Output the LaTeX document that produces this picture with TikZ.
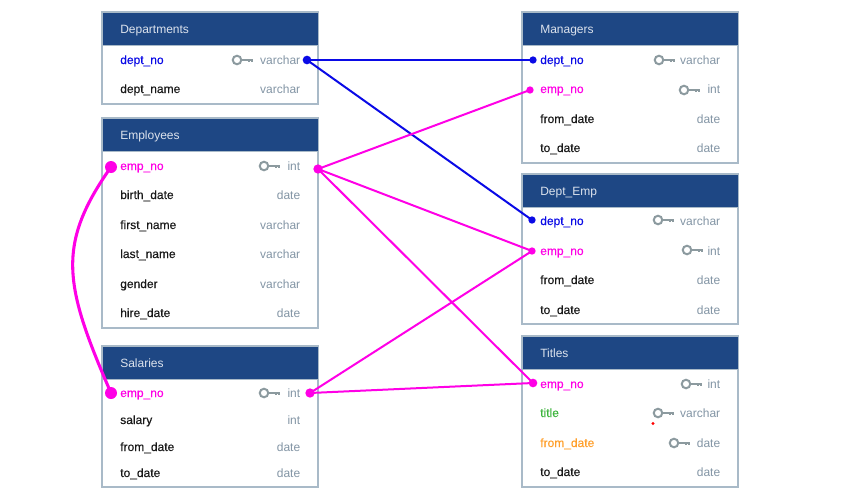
\documentclass[tikz,border=0pt]{standalone}
\usepackage{fontspec}
\setmainfont{Liberation Sans}
\newfontfamily\medfont[FakeBold=0.35]{Liberation Sans}
\definecolor{hdr}{HTML}{1E4784}
\definecolor{bord}{HTML}{A9BAC8}
\definecolor{typ}{HTML}{8395A5}
\definecolor{keyc}{HTML}{8C9A9F}
\definecolor{fkblue}{HTML}{0A0AE6}
\definecolor{fkpink}{HTML}{FF00E6}
\definecolor{grn}{HTML}{3CB53C}
\definecolor{org}{HTML}{FF9F2A}
\tikzset{
  tbl/.style={draw=bord,line width=.8pt,fill=white,anchor=north west,minimum width=162pt,inner sep=0pt,outer sep=0pt},
  hdrbar/.style={draw=bord,line width=.4pt,fill=hdr,anchor=north west,minimum width=162pt,minimum height=24.75pt,inner sep=0pt,outer sep=0pt},
  title/.style={text=white!85!hdr,anchor=base west,font=\fontsize{9}{11}\selectfont,inner sep=0pt},
  col/.style={anchor=base west,font=\medfont\fontsize{9}{11}\selectfont,inner sep=0pt,text=black!90},
  typ/.style={anchor=base east,font=\fontsize{9}{11}\selectfont,inner sep=0pt,text=typ},
  fkdot/.style={circle,fill=#1,draw=none,inner sep=0pt,outer sep=0pt},
  link/.style={line width=1.5pt,draw=#1},
  keyring/.style={circle,draw=keyc,line width=1.5pt,minimum size=6.4pt,inner sep=0pt,outer sep=0pt},
  pics/pk/.style={code={
    \node[keyring] (#1) at (1,0) {};
    \draw[keyc,line width=1.6pt] (#1.east) -- (17,0) (13,0) -- (13,2.2) (16,0) -- (16,2.2);
  }}
}
\newcommand{\tb}[5]{% name, y top, y bottom, x left, title
  \node[tbl,minimum height={(#3-#2)*.75pt}] (#1) at (#4,#2) {};
  \node[hdrbar] (#1h) at (#4,#2) {};
  \node[title] (#1t) at (#4+18,#2+21) {#5};
}
\newcommand{\rw}[6]{% name, xleft, y, colour, col, type
  \node[col,text=#4] (#1c) at (#2+18,#3+4) {#5};
  \node[typ] (#1y) at (#2+198.5,#3+4) {#6};
}
\begin{document}
\begin{tikzpicture}[x=.75pt,y=-.75pt]
\useasboundingbox (0,0) rectangle (856,496);
% Departments
\tb{dep}{12}{104}{102}{Departments}
\rw{depa}{102}{60}{fkblue}{dept\_no}{varchar}
\rw{depb}{102}{89}{black!90}{dept\_name}{varchar}
\pic at (236,60) {pk=kdep};
% Employees
\tb{emp}{118}{328}{102}{Employees}
\rw{empa}{102}{166}{fkpink}{emp\_no}{int}
\rw{empb}{102}{195}{black!90}{birth\_date}{date}
\rw{empc}{102}{225}{black!90}{first\_name}{varchar}
\rw{empd}{102}{254}{black!90}{last\_name}{varchar}
\rw{empe}{102}{284}{black!90}{gender}{varchar}
\rw{empf}{102}{313}{black!90}{hire\_date}{date}
\pic at (263,166) {pk=kemp};
% Salaries
\tb{sal}{346}{487}{102}{Salaries}
\rw{sala}{102}{393}{fkpink}{emp\_no}{int}
\rw{salb}{102}{420}{black!90}{salary}{int}
\rw{salc}{102}{447}{black!90}{from\_date}{date}
\rw{sald}{102}{473}{black!90}{to\_date}{date}
\pic at (263,393) {pk=ksal};
% Managers
\tb{man}{12}{163}{522}{Managers}
\rw{mana}{522}{60}{fkblue}{dept\_no}{varchar}
\rw{manb}{522}{89}{fkpink}{emp\_no}{int}
\rw{manc}{522}{119}{black!90}{from\_date}{date}
\rw{mand}{522}{148}{black!90}{to\_date}{date}
\pic at (658,60) {pk=kmana};
\pic at (683,90) {pk=kmanb};
% Dept_Emp
\tb{de}{174}{324}{522}{Dept\_Emp}
\rw{dea}{522}{221}{fkblue}{dept\_no}{varchar}
\rw{deb}{522}{251}{fkpink}{emp\_no}{int}
\rw{dec}{522}{280}{black!90}{from\_date}{date}
\rw{ded}{522}{310}{black!90}{to\_date}{date}
\pic at (657,220) {pk=kdea};
\pic at (686,250) {pk=kdeb};
% Titles
\tb{tit}{336}{487}{522}{Titles}
\rw{tita}{522}{384}{fkpink}{emp\_no}{int}
\rw{titb}{522}{413}{grn}{title}{varchar}
\rw{titc}{522}{443}{org}{from\_date}{date}
\rw{titd}{522}{472}{black!90}{to\_date}{date}
\pic at (685,384) {pk=ktita};
\pic at (657,413) {pk=ktitb};
\pic at (673,443) {pk=ktitc};
\node[fkdot=red,minimum size=2.6pt] (reddot) at (653,423.5) {};
% connector ends
\node[fkdot=fkblue,minimum size=6.5pt] (p1) at (307,60) {};
\node[fkdot=fkblue,minimum size=5.5pt] (p2) at (533,60) {};
\node[fkdot=fkblue,minimum size=5.5pt] (p3) at (532,220) {};
\node[fkdot=fkpink,minimum size=9pt] (e1) at (111,167) {};
\node[fkdot=fkpink,minimum size=9pt] (e2) at (111,393) {};
\node[fkdot=fkpink,minimum size=7pt] (e3) at (318,169) {};
\node[fkdot=fkpink,minimum size=7pt] (e4) at (310,393) {};
\node[fkdot=fkpink,minimum size=5.5pt] (m1) at (530,90) {};
\node[fkdot=fkpink,minimum size=5.5pt] (m2) at (532,251) {};
\node[fkdot=fkpink,minimum size=6.5pt] (m3) at (533,383) {};
% connectors
\draw[link=fkblue] (p1.center) -- (p2.center);
\draw[link=fkblue] (p1.center) -- (p3.center);
\draw[link=fkpink] (e3.center) -- (m1.center);
\draw[link=fkpink] (e3.center) -- (m2.center);
\draw[link=fkpink] (e3.center) -- (m3.center);
\draw[link=fkpink] (e4.center) -- (m2.center);
\draw[link=fkpink] (e4.center) -- (m3.center);
\draw[link=fkpink,line width=2.3pt] (e1.center) .. controls (56,245) and (64,285) .. (e2.center);
\end{tikzpicture}
\end{document}
